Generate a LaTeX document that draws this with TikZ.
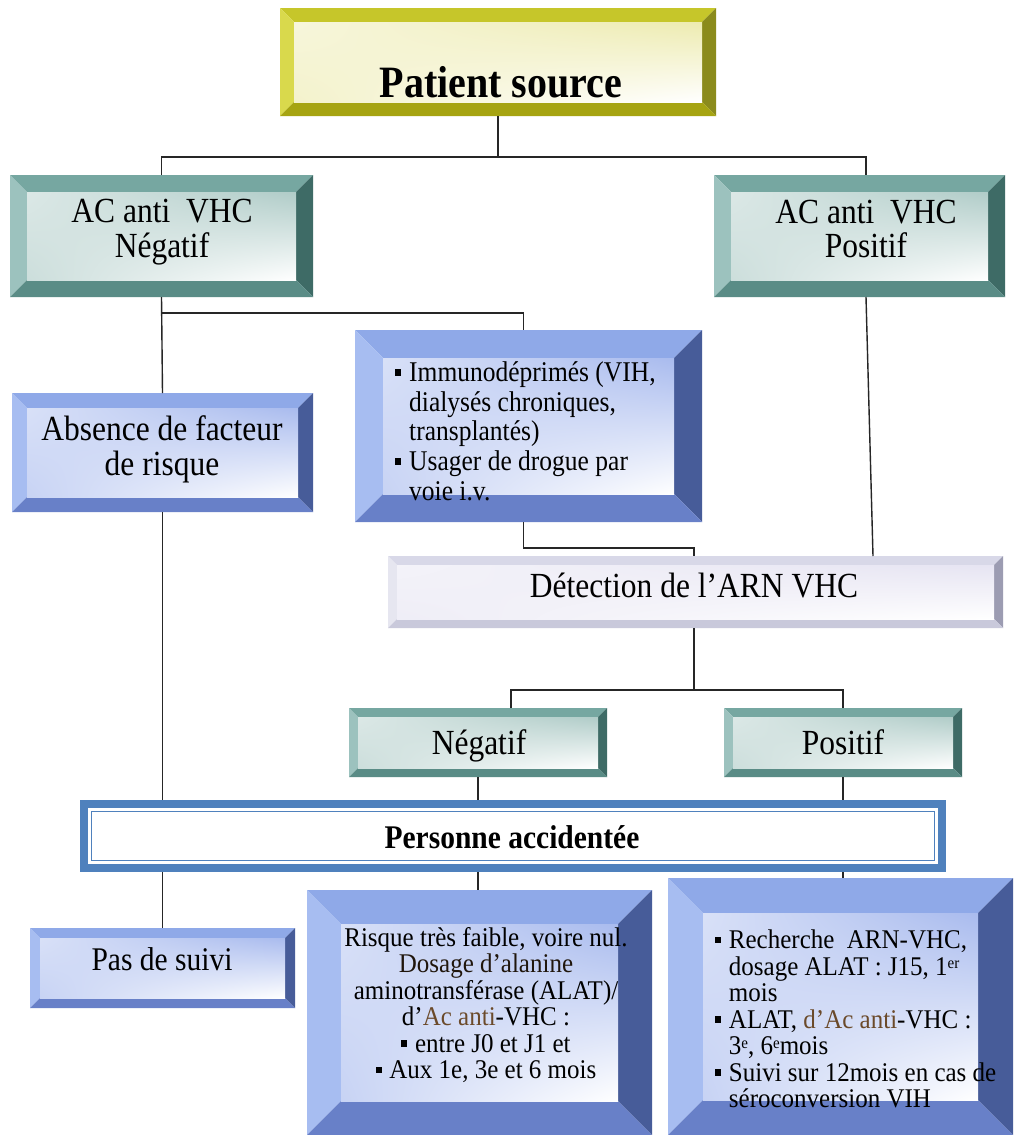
\documentclass[tikz,border=0pt]{standalone}
\usepackage{fontspec}
\setmainfont{Liberation Serif}
\usetikzlibrary{calc,shadings}
% bevel colour families: T top, L left, R right, B bottom, F face tint
\definecolor{olvT}{HTML}{C6C62A}\definecolor{olvL}{HTML}{D9D94C}\definecolor{olvR}{HTML}{8B8B1C}\definecolor{olvB}{HTML}{A6A412}\definecolor{olvF}{HTML}{EDEBB0}
\definecolor{tlT}{HTML}{76A7A1}\definecolor{tlL}{HTML}{9CC2BE}\definecolor{tlR}{HTML}{3E6B66}\definecolor{tlB}{HTML}{5A8C86}\definecolor{tlF}{HTML}{B0CCC8}
\definecolor{blT}{HTML}{8FA9E8}\definecolor{blL}{HTML}{A7BDF1}\definecolor{blR}{HTML}{475C99}\definecolor{blB}{HTML}{6880C8}\definecolor{blF}{HTML}{A9BBEE}
\definecolor{lvT}{HTML}{D8D8E8}\definecolor{lvL}{HTML}{E6E6F0}\definecolor{lvR}{HTML}{9C9CB2}\definecolor{lvB}{HTML}{C9C9DB}\definecolor{lvF}{HTML}{E6E4F2}
\definecolor{pblue}{HTML}{4F81BD}
\definecolor{brn}{HTML}{6B4A2A}
\newcommand\bul{\makebox[0.55em][l]{\rule[0.2em]{0.24em}{0.24em}}}
\newcommand\bsp{\hspace*{0.55em}}
\newcommand\sups[1]{\raisebox{0.5ex}{\fontsize{15}{15}\selectfont #1}}
% #1 name, #2 x1, #3 y1, #4 x2, #5 y2, #6 bevel, #7 colour family
\newcommand\bevelbox[7]{%
  \node[boxnode, minimum width={(#4-#2)*1pt}, minimum height={(#5-#3)*1pt}] (#1) at ({(#2+#4)/2},{(#3+#5)/2}) {};
  \fill[#7T] (#2,#3) -- (#4,#3) -- ({#4-#6},{#3+#6}) -- ({#2+#6},{#3+#6}) -- cycle;
  \fill[#7L] (#2,#3) -- ({#2+#6},{#3+#6}) -- ({#2+#6},{#5-#6}) -- (#2,#5) -- cycle;
  \fill[#7R] (#4,#3) -- (#4,#5) -- ({#4-#6},{#5-#6}) -- ({#4-#6},{#3+#6}) -- cycle;
  \fill[#7B] (#2,#5) -- (#4,#5) -- ({#4-#6},{#5-#6}) -- ({#2+#6},{#5-#6}) -- cycle;
  \shade[upper left=#7F!45!white, upper right=#7F, lower left=#7F!65!white, lower right=white] ({#2+#6},{#3+#6}) rectangle ({#4-#6},{#5-#6});
}
\begin{document}
\begin{tikzpicture}[x=1pt,y=-1pt,
  boxnode/.style={inner sep=0pt, outer sep=0pt, rectangle},
  conn/.style={draw=black!85, line width=1.4pt},
  tbig/.style={inner sep=0pt, yscale=1.12, align=center, font=\fontsize{31.5}{31}\selectfont},
  tone/.style={inner sep=0pt, yscale=1.12, anchor=base, font=\fontsize{31.5}{31}\selectfont},
  tsm/.style={inner sep=0pt, yscale=1.12, font=\fontsize{25.5}{26.5}\selectfont},
  tbt/.style={inner sep=0pt, yscale=1.08, font=\fontsize{25}{24.6}\selectfont}]
\path[use as bounding box, fill=white] (0,0) rectangle (1013,1135);

% boxes
\bevelbox{ps}{280}{8}{716}{116}{14}{olv}
\bevelbox{acn}{10}{175}{313}{297}{17}{tl}
\bevelbox{acp}{714}{175}{1005}{297}{17}{tl}
\bevelbox{abs}{12}{393}{313}{512}{15}{bl}
\bevelbox{mid}{355}{330}{702}{522}{28}{bl}
\bevelbox{det}{388}{556}{1003}{628}{9}{lv}
\bevelbox{negb}{349}{708}{607}{777}{9}{tl}
\bevelbox{posb}{724}{708}{962}{777}{9}{tl}
\bevelbox{pas}{30}{928}{295}{1008}{10}{bl}
\bevelbox{bm}{307}{890}{652}{1135}{34}{bl}
\bevelbox{br}{668}{878}{1013}{1135}{35}{bl}

\node[boxnode, fill=pblue, minimum width=866pt, minimum height=72pt] (pers) at (513,836) {};
\fill[white] (88,808) rectangle (938,864);
\draw[pblue, line width=1.2pt] (91.5,811.5) rectangle (934.5,860.5);

% texts
\node[inner sep=0pt, yscale=1.12, anchor=base, font=\fontsize{40}{40}\selectfont\bfseries] (tps) at (501,97) {Patient source};
\node[tbig] (tacn) at (162,232) {AC anti~ VHC\\Négatif};
\node[tbig] (tacp) at (866,229) {AC anti~ VHC\\Positif};
\node[tbig] (tabs) at (162,449) {Absence de facteur\\de risque};
\node[tsm, anchor=west, align=left] (tmid) at (395,431) {\bul Immunodéprimés (VIH,\\\bsp dialysés chroniques,\\\bsp transplantés)\\\bul Usager de drogue par\\\bsp voie i.v.};
\node[tone] (tdet) at (694,597) {Détection de l’ARN VHC};
\node[tone] (tneg) at (479,754) {Négatif};
\node[tone] (tpos) at (843,754) {Positif};
\node[inner sep=0pt, yscale=1.12, anchor=base, font=\fontsize{29.5}{30}\selectfont\bfseries] (tpers) at (512,848) {Personne accidentée};
\node[inner sep=0pt, yscale=1.12, anchor=base, font=\fontsize{29.5}{30}\selectfont] (tpas) at (162,970) {Pas de suivi};
\node[tbt, align=center] (tbm) at (486,1005) {Risque très faible, voire nul.\\\textcolor{brn!30!black}{Dosage d’alanine}\\aminotransférase (ALAT)/\\d’\textcolor{brn}{Ac anti}-VHC :\\\bul entre J0 et J1 et\\\bul Aux 1e, 3e et 6 mois};
\node[tbt, anchor=west, align=left] (tbr) at (715,1019) {\bul Recherche~ ARN-VHC,\\\bsp dosage ALAT : J15, 1\sups{er}\\\bsp mois\\\bul ALAT, \textcolor{brn}{d’Ac anti}-VHC :\\\bsp 3\sups{e}, 6\sups{e}mois\\\bul Suivi sur 12mois en cas de\\\bsp séroconversion VIH};

% connectors
\draw[conn] (ps.south) -- ++(0,41) coordinate (j1);
\draw[conn] (acn.north) |- (j1) -| ($(acp.north west)+(152,0)$);
\draw[conn] (acn.south) -- (abs.north);
\draw[conn] (acn.south) ++(0,16) coordinate (j2) -| ($(mid.north)+(-5,0)$);
\draw[conn] (abs.south) -- (abs.south |- pers.north);
\draw[conn] (pas.north |- pers.south) -- (pas.north);
\draw[conn] ($(mid.south)+(-5,0)$) -- ++(0,26) -| ($(det.north west)+(306,0)$);
\draw[conn] ($(acp.south west)+(152,0)$) -- ($(det.north west)+(485,0)$);
\draw[conn] ($(det.south west)+(306,0)$) -- ++(0,62) coordinate (j3);
\draw[conn] ($(negb.north west)+(162,0)$) |- (j3) -| (posb.north);
\draw[conn] (negb.south) -- (negb.south |- pers.north);
\draw[conn] (posb.south) -- (posb.south |- pers.north);
\draw[conn] (negb.south |- pers.south) -- (negb.south |- bm.north);
\draw[conn] (posb.south |- pers.south) -- (posb.south |- br.north);
\end{tikzpicture}
\end{document}
